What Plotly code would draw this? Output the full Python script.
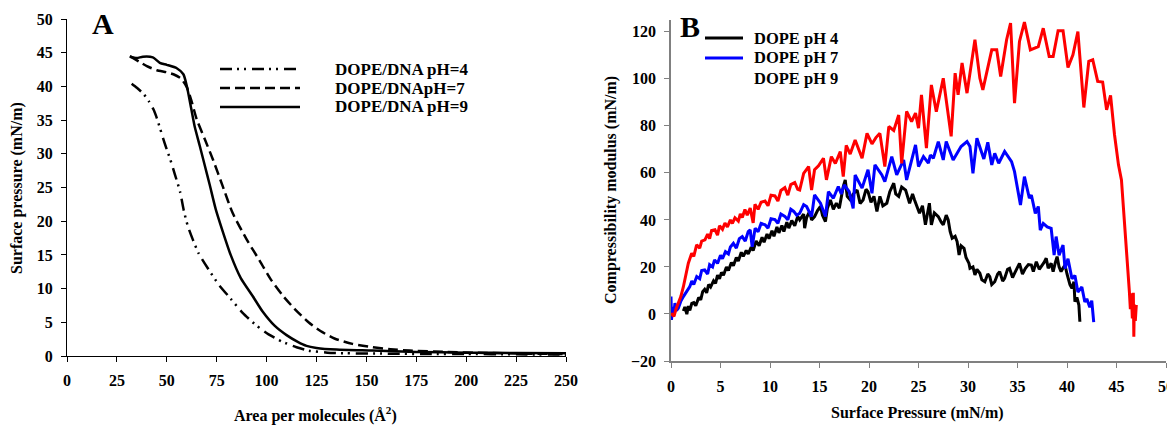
import plotly.graph_objects as go

W, H = 1175, 426
OFF = 8  # page body margin offset
FW, FH = W - OFF, H - OFF
FONT = "Times New Roman, Liberation Serif, serif"

# ---------------- Panel A data ----------------
a_ph4_x = [32.4, 35, 38.3, 41, 43.3, 45, 46.7, 49, 51.7, 54, 56.7, 58.5, 60.5, 63, 66, 70.8, 76, 82, 88, 95,
           101, 108, 115, 121, 130.5, 140, 160, 180, 200, 225, 250]
a_ph4_y = [40.4, 39.8, 38.9, 37.8, 36.6, 35.3, 33.7, 31.5, 29.2, 27.0, 24.3, 21.6, 19.3, 17.3, 15.2, 12.9,
           10.6, 8.5, 6.4, 4.5, 3.2, 2.1, 1.3, 0.8, 0.5, 0.4, 0.35, 0.3, 0.3, 0.25, 0.2]

a_ph7_x = [31.5, 36, 40, 45, 50, 53.3, 57, 60, 62.5, 65, 69, 73.3, 78, 83, 90, 97, 102, 108, 114, 121,
           127, 134, 143, 153, 162, 171.6, 190, 210, 230, 250]
a_ph7_y = [44.5, 43.7, 43.0, 42.4, 42.1, 41.8, 41.2, 39.9, 37.7, 35.1, 32.2, 29.0, 25.2, 21.2, 17.3, 13.9,
           11.4, 9.0, 7.0, 5.0, 3.7, 2.6, 1.8, 1.3, 1.0, 0.8, 0.6, 0.45, 0.35, 0.3]

a_ph9_x = [31.5, 35, 38, 43, 46.5, 50, 55, 58.3, 60, 62.3, 64, 66.5, 69, 71.5, 74.5, 78, 82, 87, 93, 98,
           104, 110, 115.6, 120, 125, 135, 153, 175, 200, 225, 250]
a_ph9_y = [44.4, 44.2, 44.4, 44.3, 43.5, 43.2, 42.7, 41.8, 40.1, 36.6, 34.0, 31.2, 28.3, 25.4, 21.8, 18.5,
           15.0, 11.6, 8.9, 6.6, 4.5, 3.1, 2.1, 1.5, 1.2, 0.95, 0.8, 0.6, 0.5, 0.45, 0.4]

a_names = ["DOPE/DNA pH=4", "DOPE/DNApH=7", "DOPE/DNA pH=9"]
a_xticks = list(range(0, 251, 25))
a_yticks = list(range(0, 51, 5))

# ---------------- Panel B data ----------------
b_ph4_x = [1.25, 1.4, 1.6, 1.75, 1.9, 2.1, 2.3, 2.5, 2.8, 3.0, 3.2, 3.4, 3.6, 3.8, 4.0, 4.3, 4.5, 4.7, 4.9,
           5.1, 5.3, 5.6, 5.8, 6.1, 6.3, 6.6, 6.8, 7.1, 7.3, 7.6, 7.8, 8.1, 8.3, 8.6, 8.9, 9.2, 9.4, 9.7,
           9.9, 10.2, 10.4, 10.7, 10.9, 11.2, 11.4, 11.7, 11.9, 12.2, 12.5, 12.8, 13.0, 13.4, 13.5, 13.7,
           14.0, 14.2, 14.5, 14.8, 15.1, 15.3, 15.6, 15.8, 16.1, 16.4, 16.7, 17.0, 17.4, 17.6, 17.8, 18.1,
           18.4, 18.8, 19.1, 19.4, 19.7, 19.9, 20.2, 20.5, 20.8, 21.1, 21.4, 21.8, 22.1, 22.5, 22.7, 23.0,
           23.3, 23.7, 24.1, 24.4, 24.6, 24.9, 25.1, 25.4, 25.7, 26.1, 26.3, 26.6, 27.0, 27.3, 27.5, 27.8,
           28.0, 28.2, 28.4, 28.7, 28.9, 29.0, 29.1, 29.3, 29.6, 29.8, 29.9, 30.1, 30.2, 30.5, 30.7, 30.9,
           31.2, 31.4, 31.7, 32.0, 32.2, 32.4, 32.7, 33.0, 33.2, 33.5, 33.7, 34.0, 34.2, 34.5, 34.7, 35.0,
           35.2, 35.5, 35.8, 36.1, 36.4, 36.6, 36.9, 37.2, 37.4, 37.7, 37.9, 38.1, 38.4, 38.6, 38.8, 39.0,
           39.2, 39.4, 39.6, 39.8, 40.0, 40.1, 40.3, 40.5, 40.7, 40.8, 41.0, 41.2, 41.3]
b_ph4_y = [1.3, 3.0, -0.1, 3.4, 1.5, 4.5, 4.8, 3.5, 7.0, 6.0, 9.5, 10.5, 9.0, 12.5, 11.5, 14.1, 13.0, 16.5,
           15.0, 17.7, 16.5, 20.0, 18.5, 21.9, 20.5, 24.0, 22.5, 26.2, 24.5, 27.0, 25.5, 28.4, 27.0, 31.0,
           29.0, 32.6, 30.5, 34.0, 32.0, 35.4, 33.0, 37.0, 34.5, 37.6, 35.0, 39.0, 36.5, 39.7, 37.5, 41.5,
           40.0, 42.5, 36.5, 41.0, 43.6, 40.0, 41.4, 44.0, 45.7, 42.0, 39.3, 45.0, 48.5, 44.5, 47.1, 45.0,
           54.2, 57.0, 50.0, 48.5, 51.0, 52.7, 47.0, 48.5, 53.0, 52.0, 47.5, 50.0, 43.6, 50.0, 46.0, 47.1,
           52.0, 55.6, 51.0, 50.0, 54.0, 52.7, 47.1, 51.0, 48.5, 45.0, 42.8, 46.0, 37.9, 47.1, 37.9, 43.0,
           41.4, 39.0, 37.9, 42.0, 40.0, 35.0, 32.2, 33.0, 30.8, 28.0, 25.1, 29.0, 27.9, 24.0, 22.9, 21.5,
           19.4, 20.0, 16.6, 19.0, 17.3, 14.5, 13.7, 17.0, 15.9, 12.5, 13.7, 17.0, 18.0, 14.0, 15.2, 19.0,
           19.4, 15.5, 17.3, 20.0, 21.5, 17.0, 19.4, 21.0, 20.8, 18.0, 22.2, 19.0, 20.1, 22.0, 23.7, 19.5,
           21.5, 18.0, 21.5, 24.4, 20.0, 18.0, 19.5, 20.8, 17.0, 15.2, 12.5, 10.9, 13.7, 5.2, 7.0, 3.8, -3.3]

b_ph7_x = [0, 0.05, 0.15, 0.25, 0.4, 0.55, 0.74, 1.0, 1.25, 1.5, 1.9, 2.1, 2.3, 2.6, 2.9, 3.1, 3.4, 3.7,
           3.9, 4.2, 4.4, 4.7, 5.0, 5.2, 5.5, 5.8, 6.0, 6.3, 6.6, 6.9, 7.2, 7.5, 7.8, 8.0, 8.2, 8.5, 8.8,
           9.1, 9.5, 9.8, 10.1, 10.5, 10.8, 11.1, 11.5, 11.8, 12.1, 12.4, 12.7, 13.0, 13.4, 13.7, 14.2,
           14.5, 15.1, 15.6, 15.9, 16.4, 16.9, 17.2, 17.5, 18.0, 18.4, 18.6, 19.3, 19.9, 20.3, 20.6, 21.3,
           21.6, 22.3, 22.8, 23.5, 23.8, 24.7, 25.0, 25.5, 26.0, 26.2, 26.5, 27.0, 27.5, 27.8, 28.5, 29.3,
           29.9, 30.2, 30.5, 30.9, 31.6, 32.0, 32.4, 32.7, 33.1, 33.7, 34.4, 34.7, 35.3, 35.7, 36.2, 36.4,
           36.8, 37.1, 37.3, 37.6, 38.0, 38.4, 38.7, 38.9, 39.2, 39.6, 39.8, 40.1, 40.5, 40.8, 41.1, 41.5,
           41.8, 42.0, 42.3, 42.5, 42.7]
b_ph7_y = [7.4, -2.5, 3.0, -1.0, 4.6, 1.5, 2.4, 5.5, 7.4, 9.0, 11.6, 14.0, 12.5, 15.9, 15.0, 18.5, 18.7,
           17.0, 21.0, 20.0, 23.0, 21.5, 25.0, 23.5, 26.5, 25.5, 28.5, 30.0, 28.0, 32.0, 32.9, 31.0, 35.0,
           35.7, 28.6, 36.5, 35.0, 38.5, 37.9, 36.5, 40.5, 40.1, 38.5, 42.5, 41.5, 40.0, 44.5, 43.6, 42.0,
           42.8, 46.5, 45.7, 41.4, 50.6, 47.1, 41.4, 52.0, 49.2, 54.2, 51.0, 54.9, 52.0, 44.9, 59.1, 53.5,
           61.3, 51.3, 63.4, 59.1, 56.3, 66.9, 59.1, 65.5, 57.0, 71.9, 62.7, 66.9, 64.1, 67.6, 66.2, 73.3,
           65.5, 73.3, 65.5, 71.2, 73.3, 71.2, 59.8, 74.7, 65.9, 73.0, 63.4, 68.3, 64.1, 69.1, 64.8, 60.5,
           46.3, 58.4, 49.2, 50.6, 42.8, 45.7, 35.7, 38.5, 37.0, 36.4, 25.0, 32.9, 25.0, 29.3, 19.3, 23.5,
           15.0, 16.4, 9.3, 11.5, 5.1, 6.5, 2.9, 5.7, -3.5]

b_ph9_x = [0, 0.3, 0.5, 0.74, 1.0, 1.25, 1.5, 1.75, 2.09, 2.3, 2.59, 2.9, 3.1, 3.43, 3.7, 3.9, 4.1, 4.44,
           4.7, 4.9, 5.2, 5.45, 5.7, 6.0, 6.2, 6.46, 6.8, 7.0, 7.2, 7.47, 7.7, 8.0, 8.3, 8.48, 8.8, 9.1,
           9.5, 9.8, 10.1, 10.5, 10.8, 11.1, 11.5, 11.8, 12.1, 12.5, 12.8, 13.0, 13.4, 13.9, 14.2, 14.5,
           14.9, 15.4, 15.7, 16.2, 16.6, 17.1, 17.4, 17.7, 18.1, 18.6, 19.3, 19.8, 20.3, 20.7, 21.1, 21.6,
           22.0, 22.5, 23.0, 23.3, 23.8, 24.3, 24.7, 25.0, 25.3, 25.8, 26.3, 26.8, 27.5, 28.3, 28.7, 29.0,
           29.4, 29.9, 30.7, 31.2, 31.5, 32.4, 32.9, 33.3, 33.9, 34.3, 34.7, 35.2, 35.7, 36.3, 37.1, 37.6,
           38.2, 38.6, 39.1, 39.6, 40.1, 40.6, 41.1, 41.7, 42.2, 42.6, 43.1, 43.6, 44.0, 44.4, 44.8, 45.2,
           45.5, 45.9, 46.3, 46.4, 46.5, 46.6, 46.7, 46.75, 46.8, 46.9, 47.0]
b_ph9_y = [0.3, -1.0, 2.0, 4.6, 7.5, 11.6, 16.0, 21.6, 25.8, 24.5, 29.4, 28.0, 31.0, 31.5, 34.0, 32.0,
           35.5, 35.8, 33.5, 37.5, 36.0, 38.7, 37.0, 40.0, 38.5, 40.9, 39.5, 42.5, 41.0, 44.4, 42.0, 45.0,
           38.7, 46.6, 44.5, 47.5, 48.0, 46.0, 50.5, 50.2, 48.0, 52.5, 53.7, 50.5, 55.0, 55.9, 53.0, 52.7,
           59.8, 62.7, 52.7, 61.3, 63.0, 66.2, 57.0, 66.9, 64.0, 69.0, 58.4, 71.7, 68.0, 74.0, 66.2, 76.8,
           72.3, 75.0, 76.8, 62.7, 79.7, 78.0, 84.6, 64.0, 86.1, 81.8, 85.4, 79.0, 93.2, 70.5, 97.4, 86.0,
           100.2, 75.5, 102.4, 93.2, 106.7, 93.9, 116.6, 100.2, 95.3, 112.3, 112.3, 101.0, 116.6, 123.7,
           89.6, 115.9, 124.1, 112.3, 113.7, 121.5, 109.5, 109.5, 120.4, 120.4, 104.8, 110.2, 120.1, 87.8,
           107.4, 108.1, 98.9, 98.6, 86.8, 92.9, 76.2, 63.4, 57.0, 35.0, 9.5, 2.0, 8.8, -1.9, 9.0, -9.7,
           4.0, -3.0, 3.8]

b_names = ["DOPE pH 4", "DOPE pH 7", "DOPE pH 9"]
b_colors = ["#000000", "#0000ff", "#ff0000"]
b_xticks = list(range(0, 51, 5))
b_yticks = list(range(-20, 121, 20))

# ---------------- Figure ----------------
fig = go.Figure()

a_dash = ["12px,5px,2px,5px,2px,6px", "10px,5px", "solid"]
for xs, ys, name, dash in zip([a_ph4_x, a_ph7_x, a_ph9_x], [a_ph4_y, a_ph7_y, a_ph9_y], a_names, a_dash):
    fig.add_trace(go.Scatter(x=xs, y=ys, mode="lines", name=name, showlegend=False,
                             line=dict(color="black", width=2.5, dash=dash, shape="spline", smoothing=0.6),
                             xaxis="x", yaxis="y"))

for xs, ys, name, col in zip([b_ph4_x, b_ph7_x, b_ph9_x], [b_ph4_y, b_ph7_y, b_ph9_y], b_names, b_colors):
    fig.add_trace(go.Scatter(x=xs, y=ys, mode="lines", name=name, showlegend=False,
                             line=dict(color=col, width=3), xaxis="x2", yaxis="y2"))


def px(x):
    return (x - OFF) / FW


def py(y):
    return 1 - (y - OFF) / FH


tickfont = dict(family=FONT, size=16, color="black", weight="bold")
axis_common = dict(showgrid=False, zeroline=False, showline=True, ticks="outside", ticklen=5,
                   tickfont=tickfont, ticklabelstandoff=5, automargin=False)

fig.update_layout(
    width=FW, height=FH, margin=dict(l=0, r=0, t=0, b=0, autoexpand=False),
    paper_bgcolor="white", plot_bgcolor="white", showlegend=False,
    font=dict(family=FONT, color="black"),
    xaxis=dict(domain=[px(67), px(566)], range=[0, 250], tickvals=a_xticks, anchor="y",
               linecolor="black", linewidth=1, tickcolor="black", **axis_common),
    yaxis=dict(domain=[py(356), py(19)], range=[0, 50], tickvals=a_yticks, anchor="x",
               linecolor="black", linewidth=1, tickcolor="black", **axis_common),
    xaxis2=dict(domain=[px(671), px(1166)], range=[0, 50], tickvals=b_xticks, anchor="y2",
                linecolor="#808080", linewidth=1.5, tickcolor="#808080", **axis_common),
    yaxis2=dict(domain=[py(361), py(20)], range=[-20, 125], tickvals=b_yticks, anchor="x2",
                linecolor="#808080", linewidth=1.5, tickcolor="#808080", **axis_common),
)

ann = []


def text(x, y, s, size, angle=0, xanchor="center"):
    ann.append(dict(x=px(x), y=py(y), xref="paper", yref="paper", text="<b>" + s + "</b>",
                    showarrow=False, xanchor=xanchor, yanchor="middle", textangle=angle,
                    font=dict(family=FONT, size=size, color="black")))


text(103, 24, "A", 30)
text(690, 26, "B", 30)
text(315, 414, "Area per molecules (Å<sup>2</sup>)", 16)
text(17, 188, "Surface pressure (mN/m)", 16, angle=-90)
text(917, 413, "Surface Pressure (mN/m)", 16)
text(611, 190, "Compressibility modulus (mN/m)", 16, angle=-90)

# legend A
shapes = []
for i, (name, dash) in enumerate(zip(a_names, a_dash)):
    yy = 69 + 19 * i
    shapes.append(dict(type="line", xref="paper", yref="paper", x0=px(220), x1=px(300), y0=py(yy), y1=py(yy),
                       line=dict(color="black", width=2.5, dash=dash)))
    text(333, yy, name, 17, xanchor="left")

# legend B
for i, (name, col) in enumerate(zip(b_names, b_colors)):
    yy = 38 + 20 * i
    if i < 2:
        shapes.append(dict(type="line", xref="paper", yref="paper", x0=px(705), x1=px(743), y0=py(yy),
                           y1=py(yy), line=dict(color=col, width=3)))
    text(752, yy, name, 16.5, xanchor="left")

fig.update_layout(annotations=ann, shapes=shapes)
fig.write_html("out.html")
